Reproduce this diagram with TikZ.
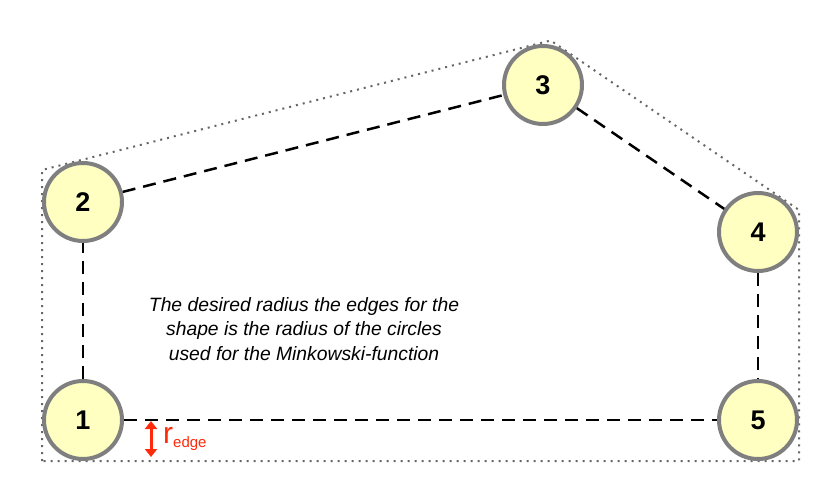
\documentclass[tikz,border=0pt]{standalone}
\usepackage{fontspec}
\setmainfont{Liberation Sans}
\usetikzlibrary{arrows.meta}
\definecolor{nodefill}{HTML}{FFFFC2}
\definecolor{nodeline}{HTML}{7F7F7F}
\definecolor{redarrow}{HTML}{FF2A0A}
\begin{document}
\begin{tikzpicture}[x=1pt,y=-1pt,
  vertex/.style={circle,draw=nodeline,line width=4pt,fill=nodefill,minimum size=78pt,inner sep=0pt,
    font=\fontsize{27}{27}\selectfont\bfseries},
  edgeline/.style={line width=2.5pt,dash pattern=on 13pt off 8pt},
  outline/.style={draw=gray!80!black,line width=2pt,dash pattern=on 2pt off 5pt},
  note/.style={align=center,font=\fontsize{19.3}{24.5}\selectfont\itshape}]
\useasboundingbox (0,0) rectangle (840,500);
\draw[outline] (42,461) -- (42,170) -- (550.7,40.5) -- (799,210) -- (799,461) -- cycle;
\node[vertex] (n1) at (83,420) {1};
\node[vertex] (n2) at (83,202) {2};
\node[vertex] (n3) at (543,85) {3};
\node[vertex] (n4) at (758,232) {4};
\node[vertex] (n5) at (758,420) {5};
\draw[edgeline] (n1) -- (n2);
\draw[edgeline] (n2) -- (n3);
\draw[edgeline] (n3) -- (n4);
\draw[edgeline] (n4) -- (n5);
\draw[edgeline] (n1) -- (n5);
\node[note] (txt) at (304,329) {The desired radius the edges for the\\shape is the radius of the circles\\used for the Minkowski-function};
\coordinate (atop) at (151,421);
\coordinate (abot) at (151,457);
\draw[redarrow,line width=3pt,{Triangle[length=8pt,width=12pt]}-{Triangle[length=8pt,width=12pt]}] (atop) -- (abot);
\node[text=redarrow,anchor=west,inner sep=0pt] (lab) at (163,439) {\fontsize{30}{30}\selectfont r\raisebox{-4pt}{\fontsize{15}{15}\selectfont edge}};
\end{tikzpicture}
\end{document}
